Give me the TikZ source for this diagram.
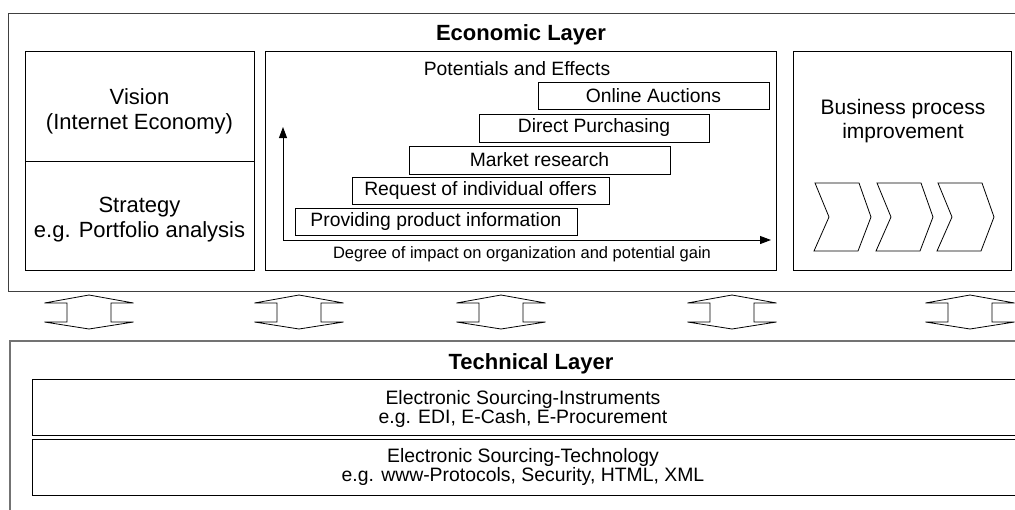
\documentclass[tikz,border=0pt]{standalone}
\usepackage{fontspec}
\setmainfont{Liberation Sans}
\usetikzlibrary{arrows.meta}
\begin{document}
\begin{tikzpicture}[x=1pt,y=-1pt,
  econline/.style={draw=black!75,line width=1pt},
  techline/.style={draw=black!55,line width=1.2pt},
  box/.style={draw=black,line width=0.9pt,inner sep=0pt},
  stepbox/.style={draw=black,line width=0.9pt,inner sep=0pt,fill=white,
    font=\fontsize{19.3}{22}\selectfont},
  bigtxt/.style={align=center,inner sep=0pt,font=\fontsize{22}{25.5}\selectfont},
  midtxt/.style={align=center,inner sep=0pt,font=\fontsize{19.4}{19}\selectfont},
  title/.style={inner sep=0pt,font=\fontsize{22}{25}\selectfont\bfseries},
  axis/.style={line width=0.9pt,-{Triangle[length=11pt,width=8pt]}},
  chev/.style={draw=black,line width=0.8pt,fill=white},
  layerarrow/.style={draw=black,line width=0.8pt,fill=white}]
\useasboundingbox (0,0) rectangle (1015,509);
\clip (0,0) rectangle (1015,509);
\fill[white] (0,0) rectangle (1015,509);

% ---------- Economic layer ----------
\draw[econline] (1040,13) -- (8,13) -- (8,291) -- (1040,291);
\node[title] (econtitle) at (521,34.5) {Economic Layer};

% Vision / Strategy
\node[box,minimum width=229pt,minimum height=219pt] (vsbox) at (139.5,160.5) {};
\coordinate (divL) at (25,161);
\coordinate (divR) at (254,161);
\draw[line width=0.9pt] (divL) -- (divR);
\node[bigtxt] (vision) at (139.5,111.5) {Vision\\(Internet Economy)};
\node[bigtxt] (strategy) at (139.5,219.5) {Strategy\\e.g. Portfolio analysis};

% Potentials and effects
\node[box,minimum width=511pt,minimum height=219pt] (potbox) at (520.5,160.5) {};
\node[inner sep=0pt,font=\fontsize{19.3}{22}\selectfont] (pottitle) at (517,69) {Potentials and Effects};
\node[stepbox,minimum width=231pt,minimum height=27pt] (oa) at (653.5,95.5) {Online Auctions};
\node[stepbox,minimum width=230pt,minimum height=28pt] (dp) at (594,128) {Direct Purchasing};
\node[stepbox,minimum width=261pt,minimum height=28pt] (mr) at (539.5,160) {Market research};
\node[stepbox,minimum width=257pt,minimum height=27pt] (ri) at (480.5,190.5) {Request of individual offers};
\node[stepbox,minimum width=282pt,minimum height=27pt] (pp) at (436,221.5) {Providing product information};
\coordinate (orig) at (283,240);
\coordinate (ytip) at (283,127);
\coordinate (xtip) at (771,240);
\draw[axis] (orig) -- (ytip);
\draw[axis] (orig) -- (xtip);
\node[inner sep=0pt,font=\fontsize{16.5}{18}\selectfont] (degree) at (522,254) {Degree of impact on organization and potential gain};

% Business process improvement
\node[box,minimum width=218pt,minimum height=219pt] (bpbox) at (902,160.5) {};
\node[align=center,inner sep=0pt,font=\fontsize{21}{24}\selectfont] (bptxt) at (903,121) {Business process\\improvement};
\foreach \dx in {0,62,123}{
  \draw[chev,shift={(\dx,0)}] (815,183) -- (859,183) -- (871,217) -- (858,251)
     -- (814,251) -- (829,217) -- cycle;
}

% ---------- arrows between layers ----------
\foreach \c in {89,299,501,732,970}{
  \draw[layerarrow] (\c-44.5,303) -- (\c,295) -- (\c+44.5,303) -- (\c+22,303)
    -- (\c+22,322) -- (\c+44.5,322) -- (\c,329) -- (\c-44.5,322)
    -- (\c-22,322) -- (\c-22,303) -- cycle;
}

% ---------- Technical layer ----------
\draw[techline] (1040,341) -- (10,341) -- (10,530);
\node[title] (techtitle) at (531,364) {Technical Layer};
\draw[box] (1040,379) -- (32,379) -- (32,435) -- (1040,435);
\draw[box] (1040,439) -- (32,439) -- (32,495) -- (1040,495);
\node[midtxt] (instr) at (523,409) {Electronic Sourcing-Instruments\\e.g. EDI, E-Cash, E-Procurement};
\node[midtxt] (techn) at (523,467) {Electronic Sourcing-Technology\\e.g. www-Protocols, Security, HTML, XML};
\end{tikzpicture}
\end{document}
